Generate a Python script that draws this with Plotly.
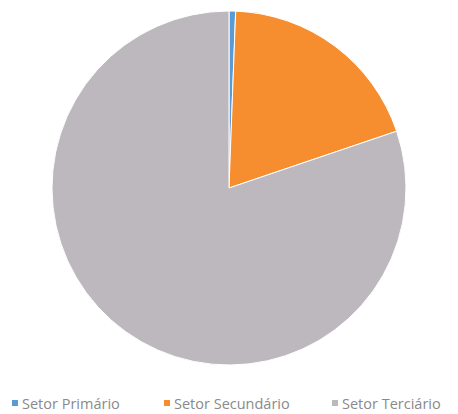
import plotly.graph_objects as go

labels = ["Setor Primário", "Setor Secundário", "Setor Terciário"]
values = [0.6, 19.2, 80.2]
colors = ["#5B9BD5", "#F68D2E", "#BCB8BD"]

# page body adds an 8px offset; figure is sized to fit the window
W, H = 450, 406
OFF = 8

def px(x):
    return (x - OFF) / W

def py(y):
    return 1 - (y - OFF) / H

fig = go.Figure(go.Pie(
    labels=labels, values=values, sort=False, direction="clockwise", rotation=0,
    marker=dict(colors=colors, line=dict(color="white", width=1)),
    textinfo="none", hoverinfo="label+percent",
    domain=dict(x=[px(52), px(406)], y=[py(365), py(11)]),
    showlegend=False,
))

# custom legend (marker square + label), built from labels/colors
marker_left = [12, 164, 332]
text_left = [21, 173, 341]
for lab, col, mx, tx in zip(labels, colors, marker_left, text_left):
    fig.add_shape(type="rect", xref="paper", yref="paper",
                  x0=px(mx), x1=px(mx + 6), y0=py(406), y1=py(400),
                  fillcolor=col, line=dict(width=0))
    fig.add_annotation(text=lab, xref="paper", yref="paper",
                       x=px(tx), y=py(403), xanchor="left", yanchor="middle",
                       showarrow=False, borderpad=0,
                       font=dict(family="Open Sans", size=14.5, color="#8A8A8A"))

fig.update_layout(
    width=W, height=H, margin=dict(l=0, r=0, t=0, b=0, autoexpand=False),
    paper_bgcolor="white", plot_bgcolor="white",
)
fig.write_html("out.html")
